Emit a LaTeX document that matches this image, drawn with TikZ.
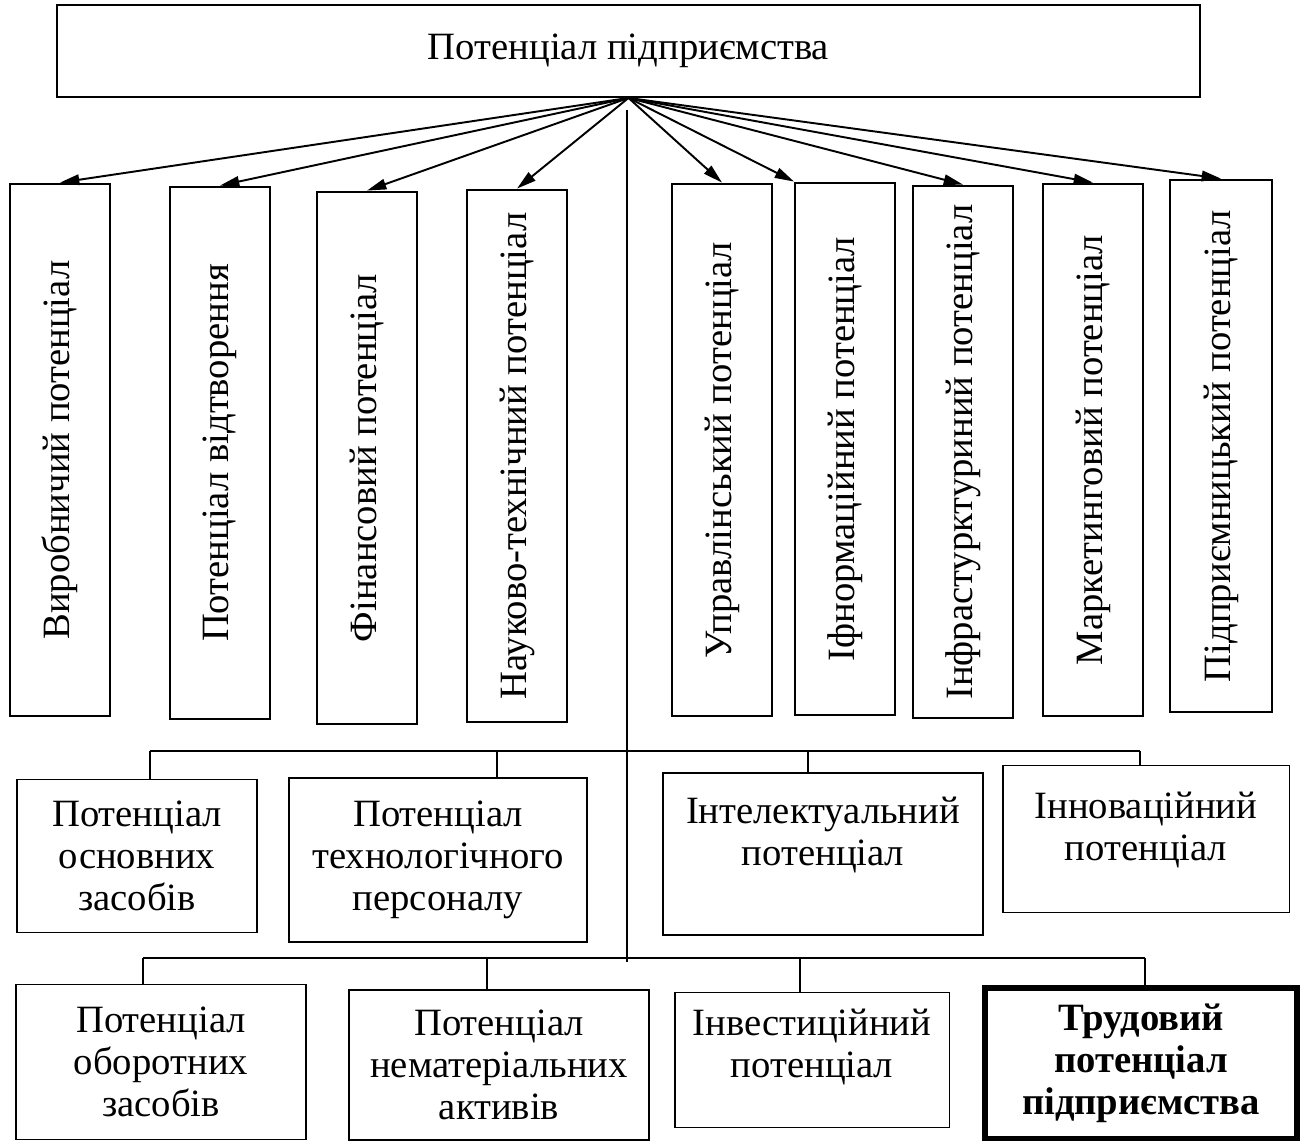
\documentclass[tikz,border=0pt]{standalone}
\usepackage{fontspec}
\setmainfont{Liberation Serif}
\usetikzlibrary{arrows.meta}
\begin{document}
\begin{tikzpicture}[x=0.02cm, y=-0.02cm,
    every node/.style={font=\fontsize{22}{24}\selectfont},
    box/.style={draw, line width=1.1pt, inner sep=0pt, align=center},
    vbox/.style={box, rotate=90, minimum width=10.66cm, minimum height=2cm},
    arr/.style={-{Triangle[length=11pt,width=6pt]}, line width=1.1pt},
    thin/.style={line width=0.8pt}]
  \useasboundingbox (0,0) rectangle (1304,1142);
  % top box
  \node[box, minimum width=22.86cm, minimum height=1.84cm] (pot) at (628.5,51) {Потенціал підприємства};
  % vertical boxes (rotated: east is the top side)
  \node[vbox] (vyr) at (60,450) {Виробничий потенціал};
  \node[vbox] (vidt) at (220,453) {Потенціал відтворення};
  \node[vbox] (fin) at (367,458) {Фінансовий потенціал};
  \node[vbox] (nauk) at (517,456) {Науково-технічний потенціал};
  \node[vbox] (upr) at (722,450) {Управлінський потенціал};
  \node[vbox] (inform) at (845,449) {Іфнормаційний потенціал};
  \node[vbox] (infr) at (963,452) {Інфрастурктуриний потенціал};
  \node[vbox] (mark) at (1093,450) {Маркетинговий потенціал};
  \node[vbox, minimum height=2.04cm] (pidpr) at (1221,446) {Підприємницький потенціал};
  \foreach \n in {vyr,vidt,fin,nauk,upr,infr,mark,pidpr}
    \draw[arr] (pot.south) -- (\n.east);
  \draw[arr] (pot.south) -- (inform.north east);
  % middle row
  \node[box, minimum width=4.8cm, minimum height=3.06cm] (osn) at (137,856) {Потенціал\\основних\\засобів};
  \node[box, minimum width=5.96cm, minimum height=3.28cm] (pers) at (438,860) {Потенціал\\технологічного\\персоналу};
  \node[box, minimum width=6.4cm, minimum height=3.24cm] (intel) at (823,854) {};
  \node[align=center] (intelt) at (823,835) {Інтелектуальний\\потенціал};
  \node[box, minimum width=5.74cm, minimum height=2.94cm] (innov) at (1146,839) {};
  \node[align=center] (innovt) at (1146,830) {Інноваційний\\потенціал};
  % bottom row
  \node[box, minimum width=5.8cm, minimum height=3.1cm] (obor) at (161,1062) {Потенціал\\оборотних\\засобів};
  \node[box, minimum width=6cm, minimum height=3cm] (nemat) at (499,1065) {Потенціал\\нематеріальних\\активів};
  \node[box, minimum width=5.5cm, minimum height=2.7cm] (invest) at (812,1060) {};
  \node[align=center] (investt) at (812,1047) {Інвестиційний\\потенціал};
  \node[box, line width=3.4pt, minimum width=6.24cm, minimum height=3.02cm,
        font=\fontsize{22}{24}\selectfont\bfseries] (trud) at (1141,1063) {Трудовий\\потенціал\\підприємства};
  % centre line and buses
  \coordinate (cTop) at (627,110);
  \coordinate (cBot) at (627,962);
  \draw[thin] (cTop) -- (cBot);
  \coordinate (m1) at (150,751);
  \coordinate (m2) at (497,751);
  \coordinate (m3) at (808,751);
  \coordinate (m4) at (1140,751);
  \draw[thin] (m1) -- (m4);
  \draw[thin] (m1) -- (m1 |- osn.north);
  \draw[thin] (m2) -- (m2 |- pers.north);
  \draw[thin] (m3) -- (m3 |- intel.north);
  \draw[thin] (m4) -- (m4 |- innov.north);
  \coordinate (l1) at (143,958);
  \coordinate (l2) at (487,958);
  \coordinate (l3) at (800,958);
  \coordinate (l4) at (1145,958);
  \draw[thin] (l1) -- (l4);
  \draw[thin] (l1) -- (l1 |- obor.north);
  \draw[thin] (l2) -- (l2 |- nemat.north);
  \draw[thin] (l3) -- (l3 |- invest.north);
  \draw[thin] (l4) -- (l4 |- trud.north);
\end{tikzpicture}
\end{document}
